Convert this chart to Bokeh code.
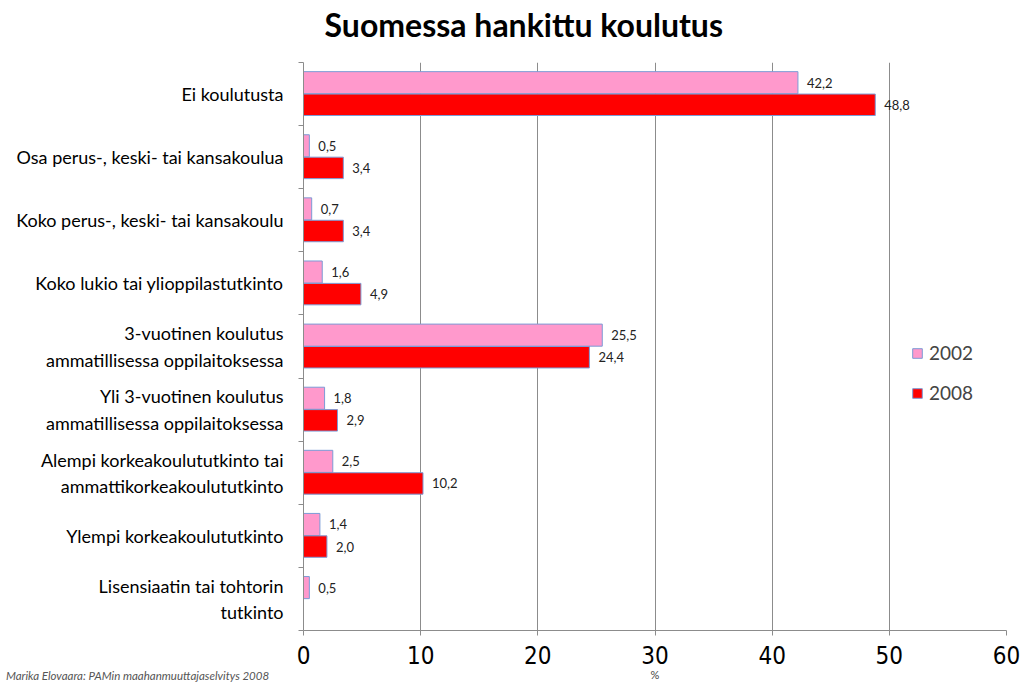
from bokeh.plotting import figure
from bokeh.models import Range1d, FixedTicker, ColumnDataSource, LabelSet, Label, Legend, LegendItem
from bokeh.core.properties import value
from bokeh.embed import file_html
from bokeh.resources import INLINE

categories = [
    "Ei koulutusta",
    "Osa perus-, keski- tai kansakoulua",
    "Koko perus-, keski- tai kansakoulu",
    "Koko lukio tai ylioppilastutkinto",
    "3-vuotinen koulutus\nammatillisessa oppilaitoksessa",
    "Yli 3-vuotinen koulutus\nammatillisessa oppilaitoksessa",
    "Alempi korkeakoulututkinto tai\nammattikorkeakoulututkinto",
    "Ylempi korkeakoulututkinto",
    "Lisensiaatin tai tohtorin\ntutkinto",
]
values_2002 = [42.2, 0.5, 0.7, 1.6, 25.5, 1.8, 2.5, 1.4, 0.5]
values_2008 = [48.8, 3.4, 3.4, 4.9, 24.4, 2.9, 10.2, 2.0, None]
series_names = ["2002", "2008"]
x_ticks = [0, 10, 20, 30, 40, 50, 60]
title_text = "Suomessa hankittu koulutus"
source_text = "Marika Elovaara: PAMin maahanmuuttajaselvitys 2008"
x_unit = "%"

FONT = "Lato"
NARROW = "'Liberation Sans Narrow', 'DejaVu Sans Condensed', Lato"
n = len(categories)
centers = [i + 0.5 for i in range(n)]
bounds = [float(i) for i in range(n + 1)]

p = figure(width=1020, height=682, output_backend="svg", toolbar_location=None,
           x_range=Range1d(0, 60), y_range=Range1d(n, 0),
           min_border_left=303, min_border_right=14, min_border_top=62, min_border_bottom=52)
p.outline_line_color = None
p.background_fill_color = "white"
p.border_fill_color = "white"

def make_src(vals, off):
    ys, xs, labs = [], [], []
    for i, v in enumerate(vals):
        if v is None:
            continue
        ys.append(centers[i] + off)
        xs.append(v)
        labs.append(f"{v:.1f}".replace(".", ","))
    return ColumnDataSource(dict(y=ys, x=xs, lab=labs))

src02 = make_src(values_2002, -0.18)
src08 = make_src(values_2008, 0.17)

r02 = p.hbar(y="y", right="x", left=0, height=0.35, source=src02,
             fill_color="#FF99CC", line_color="#7C9BD6", line_width=1)
r08 = p.hbar(y="y", right="x", left=0, height=0.34, source=src08,
             fill_color="#FF0000", line_color="#7C9BD6", line_width=1)

for s in (src02, src08):
    p.add_layout(LabelSet(x="x", y="y", text="lab", source=s, x_offset=9,
                          text_baseline="middle", text_align="left",
                          text_font=value(FONT), text_font_size=value("13px"),
                          text_color="#222222"))

legend = Legend(items=[LegendItem(label=series_names[0], renderers=[r02]),
                       LegendItem(label=series_names[1], renderers=[r08])],
                location=(608, 226), glyph_width=12, glyph_height=12,
                label_text_font=FONT, label_text_font_size="19px",
                spacing=17, border_line_color=None, background_fill_alpha=0,
                label_standoff=6)
p.add_layout(legend)

# axes
p.xaxis.ticker = FixedTicker(ticks=x_ticks)
p.xaxis.major_tick_out = 5
p.xaxis.major_tick_in = 0
p.xaxis.minor_tick_out = 0
p.xaxis.minor_tick_in = 0
p.xaxis.axis_line_color = "#8c8c8c"
p.xaxis.major_tick_line_color = "#8c8c8c"
p.xaxis.major_label_text_font = NARROW
p.xaxis.major_label_text_font_size = "24px"
p.xaxis.major_label_text_color = "black"
p.xaxis.major_label_standoff = 10

p.yaxis.ticker = FixedTicker(ticks=centers, minor_ticks=bounds)
p.yaxis.major_label_overrides = {c: lab for c, lab in zip(centers, categories)}
p.yaxis.major_tick_out = 0
p.yaxis.major_tick_in = 0
p.yaxis.minor_tick_out = 5
p.yaxis.minor_tick_in = 0
p.yaxis.minor_tick_line_color = "#8c8c8c"
p.yaxis.axis_line_color = "#8c8c8c"
p.yaxis.major_label_text_font = FONT
p.yaxis.major_label_text_font_size = "18px"
p.yaxis.major_label_text_color = "black"
p.yaxis.major_label_standoff = 15

p.xgrid.ticker = FixedTicker(ticks=x_ticks)
p.xgrid.grid_line_color = "#8c8c8c"
p.ygrid.grid_line_color = None

# texts placed in side panels (so they are not clipped to the frame)
p.add_layout(Label(x=18.8, y=-0.6, text=title_text,
                   text_align="center", text_baseline="middle",
                   text_font=FONT, text_font_size="32px", text_font_style="bold",
                   text_color="black"), "above")
p.add_layout(Label(x=-25.4, y=n + 0.71, text=source_text,
                   text_align="left", text_baseline="middle",
                   text_font=FONT, text_font_size="11.5px", text_font_style="italic",
                   text_color="#555555"), "above")
p.add_layout(Label(x=30, y=n + 0.7, text=x_unit,
                   text_align="center", text_baseline="middle",
                   text_font=FONT, text_font_size="11px", text_color="#444444"), "right")

open("out.html", "w").write(file_html(p, INLINE))
